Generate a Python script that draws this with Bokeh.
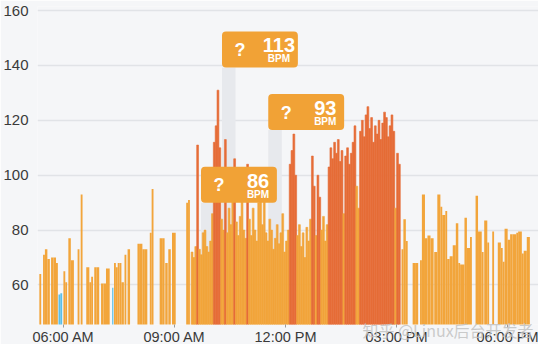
import pandas as pd
from bokeh.plotting import figure
from bokeh.models import ColumnDataSource, BoxAnnotation, Label, FixedTicker, Range1d
from bokeh.embed import file_html
from bokeh.resources import INLINE

DAY = "2016-05-10"

# ---------------- data ----------------
# separate samples: start, end, bpm, zone (0 = resting/blue, 1 = light, 2 = workout/dark)
sparse_start = ["05:21", "05:27", "05:30", "05:34", "05:40", "05:44", "05:48", "05:52", "05:55", "06:00",
                "06:03", "06:08", "06:12", "06:23", "06:28", "06:37", "06:42", "06:45", "06:50", "06:54",
                "07:01", "07:05", "07:09", "07:19", "07:22", "07:25", "07:28", "07:31", "07:34", "07:39",
                "07:44", "08:00", "08:04", "08:08", "08:12", "08:20", "08:23", "08:36", "08:40", "08:45",
                "08:50", "08:56", "09:19", "09:22",
                "15:08", "15:11", "15:15", "15:26", "15:30", "15:38", "15:41", "15:46", "15:50", "15:55",
                "16:01", "16:06", "16:11", "16:14", "16:19", "16:22", "16:26", "16:31", "16:36", "16:40",
                "16:43", "16:50", "16:54", "16:59", "17:08", "17:12", "17:18", "17:22", "17:27", "17:35",
                "17:44", "17:49", "17:52", "17:55", "18:00", "18:04", "18:08", "18:14", "18:17", "18:23",
                "18:26", "18:31"]
sparse_end = ["05:24", "05:30", "05:34", "05:38", "05:44", "05:48", "05:51", "05:55", "05:58", "06:03",
              "06:06", "06:12", "06:17", "06:26", "06:31", "06:42", "06:45", "06:48", "06:54", "06:58",
              "07:05", "07:09", "07:15", "07:21", "07:25", "07:28", "07:31", "07:34", "07:38", "07:42",
              "07:48", "08:04", "08:08", "08:12", "08:16", "08:23", "08:26", "08:40", "08:44", "08:49",
              "08:54", "09:02", "09:22", "09:25",
              "15:11", "15:15", "15:18", "15:30", "15:35", "15:41", "15:46", "15:50", "15:55", "16:00",
              "16:06", "16:11", "16:14", "16:19", "16:22", "16:26", "16:31", "16:36", "16:40", "16:43",
              "16:50", "16:54", "16:59", "17:02", "17:12", "17:18", "17:21", "17:27", "17:30", "17:38",
              "17:49", "17:52", "17:55", "18:00", "18:04", "18:08", "18:14", "18:17", "18:23", "18:26",
              "18:31", "18:36"]
sparse_bpm = [64, 71, 73, 69.5, 70, 70, 68, 56.5, 57, 65,
              61, 77, 69, 73, 93, 66.5, 61, 63, 66.5, 66.5,
              60.5, 60.5, 66, 59, 68, 66.5, 68, 68, 61, 71,
              73, 75, 75, 73, 73, 79, 95, 77, 77, 68,
              73, 79, 90, 91,
              73, 84, 76, 68, 68, 69, 93, 77, 78, 77,
              72, 93, 88.5, 85.5, 87, 69.5, 70.5, 74.5, 82.5, 68,
              67.5, 84.5, 73.5, 77.5, 92.5, 79.5, 72, 83.5, 75.5, 79.5,
              75.5, 73.5, 68.5, 80.5, 76.5, 78.5, 78.5, 79, 79.5, 71.5,
              72.5, 77.5]
sparse_zone = [1, 1, 1, 1, 1, 1, 1, 0, 0, 1,
               1, 1, 1, 1, 1, 1, 1, 1, 1, 1,
               1, 1, 1, 0, 1, 1, 1, 1, 1, 1,
               1, 1, 1, 1, 1, 1, 1, 1, 1, 1,
               1, 1, 1, 1,
               1, 1, 1, 1, 1, 1, 1, 1, 1, 1,
               1, 1, 1, 1, 1, 1, 1, 1, 1, 1,
               1, 1, 1, 1, 1, 1, 1, 1, 1, 1,
               1, 1, 1, 1, 1, 1, 1, 1, 1, 1,
               1, 1]

# continuous samples, one every 3 minutes from 09:27
dense_first = "09:27"
dense_step_min = 3
dense_bpm = [72, 70, 74, 111, 73, 71, 79, 80, 74, 72, 76, 86,
             112, 118, 131, 110, 84, 80, 113, 79, 88, 82, 91, 106,
             83, 78, 85, 96, 80, 77, 104,
             84, 78, 88, 80, 76, 90, 97, 82, 94, 79, 76, 84, 80, 73, 77, 82, 75, 79, 86, 72, 76, 80,
             104, 109, 115, 100,
             78, 82, 74, 79, 70, 81, 76, 84,
             107, 96, 78, 100, 92, 80, 85, 76, 82,
             103, 110, 106, 112, 108, 113, 105, 109, 86,
             107, 110, 104, 108, 112, 118, 96, 88,
             116, 120, 114, 122, 125, 117, 121, 112, 118, 115, 120, 113, 119, 123, 121, 114, 118, 122, 116,
             88, 108, 104]
dense_zone = [1, 1, 1, 2, 1, 1, 1, 1, 1, 1, 1, 1,
              2, 2, 2, 2, 1, 1, 2, 1, 1, 1, 1, 2,
              1, 1, 1, 1, 1, 1, 2,
              1, 1, 1, 1, 1, 1, 1, 1, 1, 1, 1, 1, 1, 1, 1, 1, 1, 1, 1, 1, 1, 1,
              2, 2, 2, 2,
              1, 1, 1, 1, 1, 1, 1, 1,
              2, 2, 1, 2, 2, 1, 1, 1, 1,
              2, 2, 2, 2, 2, 2, 2, 2, 1,
              2, 2, 2, 2, 2, 2, 1, 1,
              2, 2, 2, 2, 2, 2, 2, 2, 2, 2, 2, 2, 2, 2, 2, 2, 2, 2, 2,
              1, 2, 2]

# highlighted samples (callouts)
callout_time = ["09:43", "10:17", "11:32"]
callout_bpm = [86, 113, 93]

tick_times = ["06:00", "09:00", "12:00", "15:00", "18:00"]
tick_labels = ["06:00 AM", "09:00 AM", "12:00 PM", "03:00 PM", "06:00 PM"]
y_ticks = [60, 80, 100, 120, 140, 160]
watermark = "知乎 @Linux后台开发者"

# ---------------- layout / style ----------------
CALLOUT_TOP = [103.1, 152.4, 129.6]
CALLOUT_W_MIN = 123
CALLOUT_H = 13.1
BAND_W_MIN = 22
BASE = 40
WATERMARK_PAD = 20          # ideographic spaces pushing the centred watermark to the right
ZONE_COLORS = {0: "#5cbfe6", 1: "#f2a53b", 2: "#e66c37"}
BG = "#f5f6f8"
FONT = "Liberation Sans"

assert len(sparse_start) == len(sparse_end) == len(sparse_bpm) == len(sparse_zone)
assert len(dense_bpm) == len(dense_zone)

EPOCH = pd.Timestamp("1970-01-01")


def ms(t):
    return (pd.Timestamp(DAY + " " + t) - EPOCH).total_seconds() * 1000.0


MIN = 60000.0

sparse_src = ColumnDataSource(dict(
    left=[ms(t) for t in sparse_start],
    right=[ms(t) for t in sparse_end],
    top=sparse_bpm,
    color=[ZONE_COLORS[z] for z in sparse_zone],
))

d0 = ms(dense_first)
dense_left = [d0 + i * dense_step_min * MIN for i in range(len(dense_bpm))]
dense_src = ColumnDataSource(dict(
    left=dense_left,
    right=[x + dense_step_min * MIN for x in dense_left],
    top=dense_bpm,
    color=[ZONE_COLORS[z] for z in dense_zone],
))

p = figure(width=538, height=344, x_axis_type="datetime",
           x_range=Range1d(ms("05:18"), ms("18:50")),
           y_range=Range1d(45.6, 161.5),
           output_backend="svg", toolbar_location=None,
           min_border_left=28, min_border_right=0, min_border_top=6, min_border_bottom=0)

p.background_fill_color = BG
p.border_fill_color = BG
p.outline_line_color = None
p.xgrid.visible = False
p.ygrid.grid_line_color = "#e1e3e7"
p.ygrid.grid_line_width = 1.5

p.yaxis.ticker = FixedTicker(ticks=y_ticks)
p.yaxis.axis_line_color = None
p.yaxis.major_tick_line_color = None
p.yaxis.minor_tick_line_color = None
p.yaxis.major_label_text_font = FONT
p.yaxis.major_label_text_font_size = "15px"
p.yaxis.major_label_text_color = "#3a3a3a"
p.yaxis.major_label_standoff = 3

tick_ms = [ms(t) for t in tick_times]
xax = p.xaxis[0]
xax.ticker = FixedTicker(ticks=tick_ms)
xax.major_label_overrides = {t: lab for t, lab in zip(tick_ms, tick_labels)}
xax.axis_line_color = None
xax.major_tick_line_color = "#9a9a9a"
xax.major_tick_in = 0
xax.major_tick_out = 3
xax.minor_tick_line_color = None
xax.major_label_text_font = FONT
xax.major_label_text_font_size = "14.5px"
xax.major_label_text_color = "#3a3a3a"
xax.major_label_standoff = 1
# watermark sits over the time labels, bottom right
xax.axis_label = "\u3000" * WATERMARK_PAD + watermark
xax.axis_label_align = "center"
xax.axis_label_standoff = -30
xax.axis_label_text_font = "Noto Sans CJK SC"
xax.axis_label_text_font_size = "16px"
xax.axis_label_text_font_style = "normal"
xax.axis_label_text_color = "#c2c2c2"
xax.axis_label_text_alpha = 0.85

# gray selection bands behind callouts
for t, top in zip(callout_time, CALLOUT_TOP):
    left = ms(t)
    p.add_layout(BoxAnnotation(left=left, right=left + BAND_W_MIN * MIN, top=top - CALLOUT_H,
                               fill_color="#e7e9ed", fill_alpha=1.0, line_color=None, level="underlay"))

p.quad(left="left", right="right", top="top", bottom=BASE, source=dense_src,
       fill_color="color", line_color="color", line_width=0.6)
p.quad(left="left", right="right", top="top", bottom=BASE, source=sparse_src,
       fill_color="color", line_color=None)

# callouts
for t, bpm, top in zip(callout_time, callout_bpm, CALLOUT_TOP):
    left = ms(t)
    p.add_layout(BoxAnnotation(left=left, right=left + CALLOUT_W_MIN * MIN, top=top, bottom=top - CALLOUT_H,
                               fill_color="#f1a236", fill_alpha=1.0, line_color=None, border_radius=4))
    p.add_layout(Label(x=left, y=top, x_offset=18, y_offset=-18.5, text="?", text_align="center",
                       text_baseline="middle", text_color="white", text_font=FONT,
                       text_font_size="18px", text_font_style="bold"))
    p.add_layout(Label(x=left, y=top, x_offset=57, y_offset=-14, text=str(bpm), text_align="center",
                       text_baseline="middle", text_color="white", text_font=FONT,
                       text_font_size="20px", text_font_style="bold"))
    p.add_layout(Label(x=left, y=top, x_offset=57, y_offset=-27.5, text="BPM", text_align="center",
                       text_baseline="middle", text_color="white", text_font=FONT,
                       text_font_size="10px", text_font_style="bold"))

open("out.html", "w").write(file_html(p, INLINE))
